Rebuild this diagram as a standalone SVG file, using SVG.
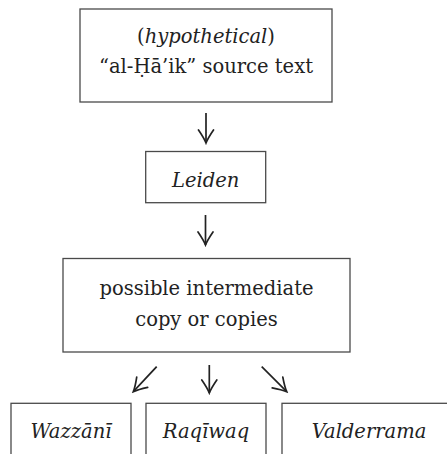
<svg xmlns="http://www.w3.org/2000/svg" width="447" height="454" viewBox="0 0 447 454">
<style>
.box{fill:#fff;stroke:#4a4a4a;stroke-width:1.3}
.t{font-family:"DejaVu Serif","Liberation Serif",serif;font-size:19.5px;fill:#222;text-anchor:middle}
.i{font-style:italic}
.arr{stroke:#222;stroke-width:1.7;fill:none;marker-end:url(#ah)}
</style>
<defs>
<marker id="ah" markerUnits="userSpaceOnUse" viewBox="-15 -10 17 20" refX="0" refY="0" markerWidth="17" markerHeight="20" orient="auto">
<path d="M-13,-7.5 Q-5,-2 0,0 Q-5,2 -13,7.5" fill="none" stroke="#222" stroke-width="1.7" stroke-linecap="round"/>
</marker>
</defs>
<rect width="447" height="454" fill="#fff"/>
<g id="source">
<rect class="box" x="80" y="9" width="252" height="93"/>
<text class="t" x="206" y="43">(<tspan class="i">hypothetical</tspan>)</text>
<text class="t" x="206" y="73">“al-Ḥā’ik” source text</text>
</g>
<g id="leiden">
<rect class="box" x="145.7" y="151.5" width="120" height="51.2"/>
<text class="t i" x="205.7" y="187">Leiden</text>
</g>
<g id="intermediate">
<rect class="box" x="63" y="258.5" width="287" height="93.5"/>
<text class="t" x="206.5" y="295">possible intermediate</text>
<text class="t" x="206.5" y="326">copy or copies</text>
</g>
<g id="wazzani">
<rect class="box" x="11" y="403.3" width="120" height="60"/>
<text class="t i" x="71" y="438">Wazzānī</text>
</g>
<g id="raqiwaq">
<rect class="box" x="146" y="403.3" width="120" height="60"/>
<text class="t i" x="206" y="438">Raqīwaq</text>
</g>
<g id="valderrama">
<rect class="box" x="282" y="403.3" width="174" height="60"/>
<text class="t i" x="369" y="438">Valderrama</text>
</g>
<g id="connectors">
<line class="arr" x1="206" y1="113" x2="206" y2="143"/>
<line class="arr" x1="205.5" y1="215" x2="205.5" y2="245"/>
<line class="arr" x1="156.7" y1="366.7" x2="133.3" y2="391.7"/>
<line class="arr" x1="209.3" y1="365" x2="209.3" y2="393"/>
<line class="arr" x1="261.7" y1="366.7" x2="286.7" y2="391.7"/>
</g>
</svg>
